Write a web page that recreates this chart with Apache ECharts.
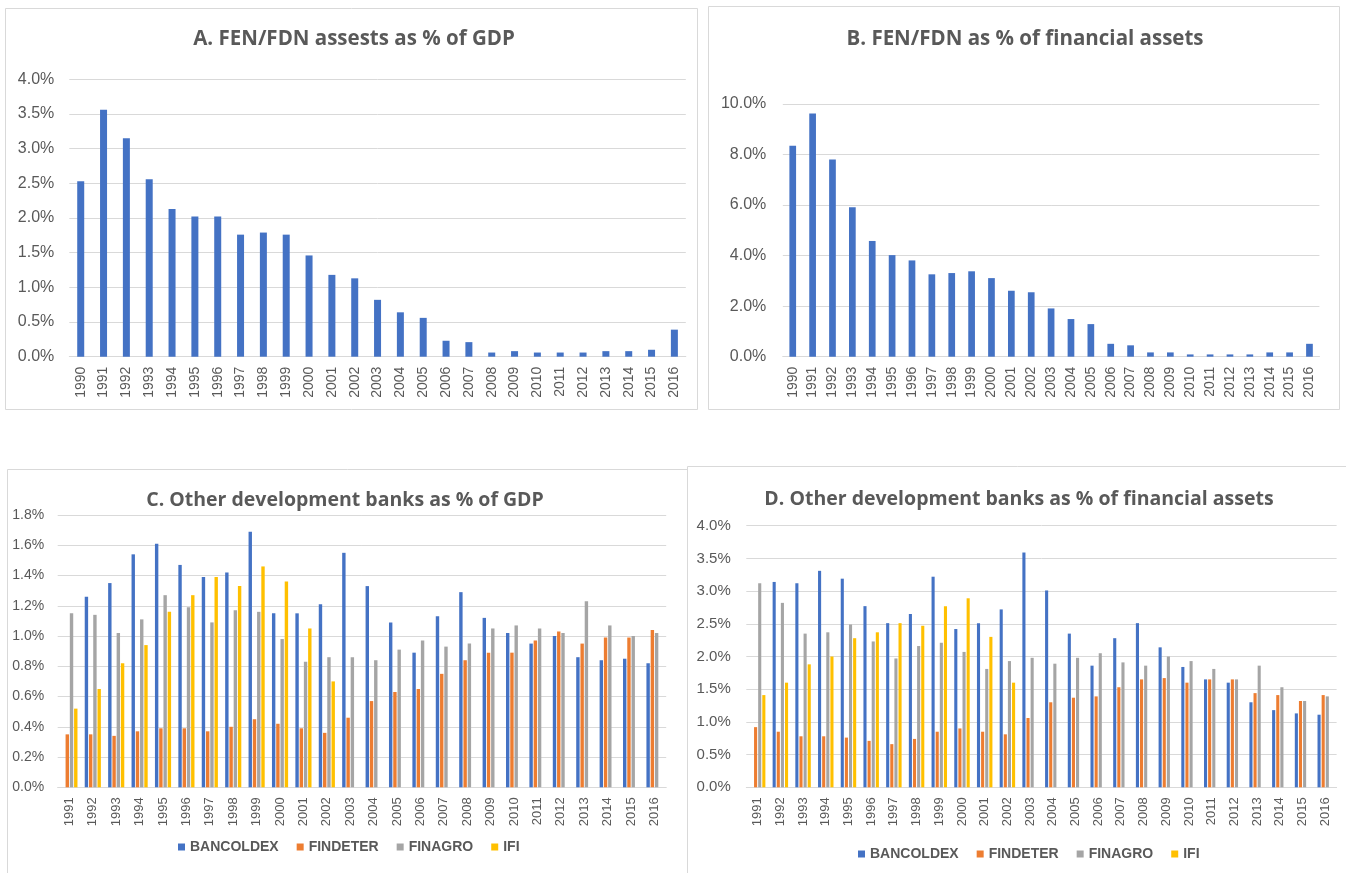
<!DOCTYPE html>
<html>
<head>
<meta charset="utf-8">
<script src="https://cdn.jsdelivr.net/npm/echarts@6/dist/echarts.min.js"></script>
<style>
html,body{margin:0;padding:0;background:#fff;}
#c{width:1346px;height:873px;}
</style>
</head>
<body>
<div id="c"></div>
<script>
// ---- data ----
const yearsAB = ['1990','1991','1992','1993','1994','1995','1996','1997','1998','1999','2000','2001','2002','2003','2004','2005','2006','2007','2008','2009','2010','2011','2012','2013','2014','2015','2016'];
const yearsCD = ['1991','1992','1993','1994','1995','1996','1997','1998','1999','2000','2001','2002','2003','2004','2005','2006','2007','2008','2009','2010','2011','2012','2013','2014','2015','2016'];

// Panel A: FEN/FDN assets as % of GDP
const fenGdp = [2.53,3.56,3.15,2.56,2.13,2.02,2.02,1.76,1.79,1.76,1.46,1.18,1.13,0.82,0.64,0.56,0.23,0.21,0.06,0.08,0.06,0.06,0.06,0.08,0.08,0.10,0.39];
// Panel B: FEN/FDN as % of financial assets
const fenFin = [8.35,9.62,7.80,5.91,4.58,4.02,3.81,3.26,3.31,3.38,3.11,2.61,2.55,1.91,1.49,1.29,0.51,0.45,0.17,0.17,0.09,0.09,0.09,0.09,0.17,0.17,0.51];

// Panel C: other development banks as % of GDP
const bancGdp = [null,1.26,1.35,1.54,1.61,1.47,1.39,1.42,1.69,1.15,1.15,1.21,1.55,1.33,1.09,0.89,1.13,1.29,1.12,1.02,0.95,1.00,0.86,0.84,0.85,0.82];
const findGdp = [0.35,0.35,0.34,0.37,0.39,0.39,0.37,0.40,0.45,0.42,0.39,0.36,0.46,0.57,0.63,0.65,0.75,0.84,0.89,0.89,0.97,1.03,0.95,0.99,0.99,1.04];
const finaGdp = [1.15,1.14,1.02,1.11,1.27,1.19,1.09,1.17,1.16,0.98,0.83,0.86,0.86,0.84,0.91,0.97,0.93,0.95,1.05,1.07,1.05,1.02,1.23,1.07,1.00,1.02];
const ifiGdp  = [0.52,0.65,0.82,0.94,1.16,1.27,1.39,1.33,1.46,1.36,1.05,0.70,null,null,null,null,null,null,null,null,null,null,null,null,null,null];

// Panel D: other development banks as % of financial assets
const bancFin = [null,3.14,3.12,3.31,3.19,2.77,2.51,2.65,3.22,2.42,2.51,2.72,3.59,3.01,2.35,1.86,2.28,2.51,2.14,1.84,1.65,1.60,1.30,1.18,1.13,1.11];
const findFin = [0.92,0.85,0.78,0.78,0.76,0.71,0.66,0.74,0.85,0.90,0.85,0.81,1.06,1.30,1.37,1.39,1.53,1.65,1.67,1.60,1.65,1.65,1.44,1.41,1.32,1.41];
const finaFin = [3.12,2.82,2.35,2.37,2.49,2.23,1.97,2.16,2.21,2.07,1.81,1.93,1.98,1.89,1.98,2.05,1.91,1.86,2.00,1.93,1.81,1.65,1.86,1.53,1.32,1.39];
const ifiFin  = [1.41,1.60,1.88,2.00,2.28,2.37,2.51,2.47,2.77,2.89,2.30,1.60,null,null,null,null,null,null,null,null,null,null,null,null,null,null];

const bankNames = ['BANCOLDEX','FINDETER','FINAGRO','IFI'];
const colors = ['#4472C4','#ED7D31','#A5A5A5','#FFC000'];

// ---- chart ----
const chart = echarts.init(document.getElementById('c'), null, {renderer:'canvas'});
const txt = '#595959';
const grid = '#d9d9d9';
const tickFont = 'Liberation Sans, Arial, sans-serif';
const titleFont = 'Open Sans, sans-serif';

function xAxis(idx, cats, size){
  return {
    type:'category', gridIndex:idx, data:cats,
    axisLine:{show:true, lineStyle:{color:grid, width:1}},
    axisTick:{show:false},
    axisLabel:{rotate:90, interval:0, margin:10, color:txt, fontSize:size, fontFamily:tickFont}
  };
}
function yAxis(idx, max, interval, size, margin){
  return {
    type:'value', gridIndex:idx, min:0, max:max, interval:interval,
    axisLine:{show:false}, axisTick:{show:false},
    splitLine:{lineStyle:{color:grid, width:1}},
    axisLabel:{margin:margin, color:txt, fontSize:size, fontFamily:tickFont,
      formatter:function(v){return v.toFixed(1)+'%';}}
  };
}
function title(text, cx, top, size){
  return {text:text, left:cx, top:top, textAlign:'center', padding:0,
    textStyle:{color:txt, fontSize:size, fontWeight:'bold', fontFamily:titleFont, lineHeight:size}};
}

const series = [
  {type:'bar', name:'FEN/FDN', xAxisIndex:0, yAxisIndex:0, data:fenGdp, barWidth:7, itemStyle:{color:colors[0]}, legendHoverLink:false},
  {type:'bar', name:'FEN/FDN ', xAxisIndex:1, yAxisIndex:1, data:fenFin, barWidth:6.7, itemStyle:{color:colors[0]}, legendHoverLink:false}
];
const cData = [bancGdp, findGdp, finaGdp, ifiGdp];
const dData = [bancFin, findFin, finaFin, ifiFin];
bankNames.forEach(function(n,i){
  series.push({type:'bar', name:n, xAxisIndex:2, yAxisIndex:2, data:cData[i], barWidth:3.4, barGap:'25%', itemStyle:{color:colors[i]}});
});
bankNames.forEach(function(n,i){
  series.push({type:'bar', name:n, xAxisIndex:3, yAxisIndex:3, data:dData[i], barWidth:3.1, barGap:'33%', itemStyle:{color:colors[i]}});
});

function legend(cx, top){
  return {data:bankNames, left:cx, top:top, orient:'horizontal', itemWidth:7, itemHeight:7, itemGap:18,
    icon:'rect', padding:0, textStyle:{color:txt, fontSize:14, fontWeight:'bold', fontFamily:tickFont}};
}

const option = {
  animation:false,
  backgroundColor:'#ffffff',
  title:[
    title('A. FEN/FDN assests as % of GDP', 354, 29, 20.5),
    title('B. FEN/FDN as % of financial assets', 1025, 29, 20.5),
    title('C. Other development banks as % of GDP', 345, 491, 19.5),
    title('D. Other development banks as % of financial assets', 1019, 489.5, 19.5)
  ],
  legend:[legend(178, 840), legend(858, 847)],
  grid:[
    {left:69.3, top:79.3, width:616.5, height:277.4},
    {left:782.8, top:104, width:536.6, height:252.7},
    {left:57.7, top:515, width:608.5, height:272.3},
    {left:746.3, top:525.7, width:590.3, height:261.6}
  ],
  xAxis:[xAxis(0, yearsAB, 14), xAxis(1, yearsAB, 14), xAxis(2, yearsCD, 13), xAxis(3, yearsCD, 13)],
  yAxis:[yAxis(0, 4, 0.5, 16, 15), yAxis(1, 10, 2, 16, 16.5), yAxis(2, 1.8, 0.2, 14, 13.5), yAxis(3, 4, 0.5, 15, 15.5)],
  series:series,
  graphic:[
    {type:'rect', silent:true, z:-10, shape:{x:5.5, y:8.5, width:692, height:401}, style:{fill:null, stroke:'#d9d9d9', lineWidth:1}},
    {type:'rect', silent:true, z:-10, shape:{x:708.5, y:6.5, width:631, height:403}, style:{fill:null, stroke:'#d9d9d9', lineWidth:1}},
    {type:'rect', silent:true, z:-10, shape:{x:7.5, y:469.5, width:680, height:420}, style:{fill:null, stroke:'#d9d9d9', lineWidth:1}},
    {type:'rect', silent:true, z:-10, shape:{x:687.5, y:466.5, width:680, height:420}, style:{fill:null, stroke:'#d9d9d9', lineWidth:1}}
  ]
};
chart.setOption(option);
</script>
</body>
</html>
